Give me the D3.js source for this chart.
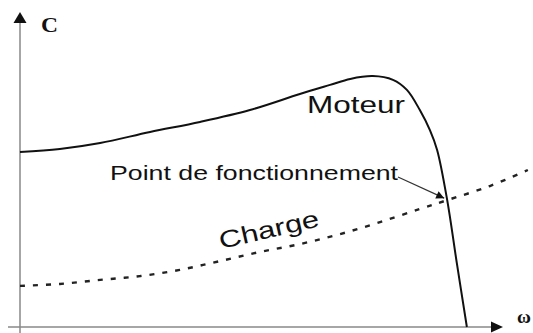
<!DOCTYPE html>
<html>
<head>
<meta charset="utf-8">
<script src="https://cdn.jsdelivr.net/npm/d3@7"></script>
<style>
  body { margin: 0; background: #fff; }
  svg { display: block; }
  .lbl { font-family: "Liberation Sans", Arial, sans-serif; fill: #111; }
  .axlbl { font-family: "Liberation Serif", "Times New Roman", serif; font-weight: bold; fill: #111; }
</style>
</head>
<body>
<div id="chart"></div>
<script>
// motor torque curve (abstract units, 0..100)
const motorX = [0, 8.3, 16.7, 27.1, 37.5, 47.9, 58.3, 64.6, 68.8, 73.5, 77.7, 80.6, 83.3, 85.4, 86.9, 89.0, 91.0, 93.1];
const motorY = [55.7, 56.7, 58.6, 62.1, 65.3, 69.1, 74.2, 77.1, 79.0, 79.9, 78.7, 75.5, 69.1, 62.7, 56.4, 40.4, 20.4, 0];
// load torque curve
const loadX = [0, 8.3, 16.7, 25.0, 33.3, 41.7, 50.0, 58.3, 66.7, 75.0, 83.3, 89.0, 97.9, 105.8];
const loadY = [13.1, 13.7, 15.0, 16.2, 18.2, 21.0, 23.9, 26.4, 29.6, 33.4, 37.6, 40.4, 44.9, 50.0];
// operating point
const opPoint = [89.0, 40.4];
const labels = { y: 'C', x: 'ω', motor: 'Moteur', load: 'Charge', point: 'Point de fonctionnement' };

document.addEventListener('DOMContentLoaded', function(){
  drawChart();
});

function drawChart() {
  const W = 533, H = 333;
  const svg = d3.select('#chart').append('svg').attr('width', W).attr('height', H);

  const x = d3.scaleLinear().domain([0, 100]).range([20, 500]);
  const y = d3.scaleLinear().domain([0, 100]).range([327, 13]);

  const defs = svg.append('defs');
  defs.append('marker').attr('id', 'ptr')
    .attr('viewBox', '0 0 10 10').attr('refX', 10).attr('refY', 5)
    .attr('markerWidth', 11).attr('markerHeight', 8).attr('markerUnits', 'userSpaceOnUse')
    .attr('orient', 'auto')
    .append('path').attr('d', 'M0,0 L10,5 L0,10 Z').attr('fill', '#111');

  // axes
  svg.append('line').attr('x1', x(0)).attr('y1', H).attr('x2', x(0)).attr('y2', 22)
    .attr('stroke', '#888').attr('stroke-width', 1.5);
  svg.append('path').attr('d', `M${x(0)},12 L${x(0) - 6.5},23 L${x(0) + 6.5},23 Z`).attr('fill', '#111');
  svg.append('line').attr('x1', 8).attr('y1', y(0)).attr('x2', 492).attr('y2', y(0))
    .attr('stroke', '#888').attr('stroke-width', 1.5);
  svg.append('path').attr('d', `M503,${y(0)} L491,${y(0) - 5.5} L491,${y(0) + 5.5} Z`).attr('fill', '#111');

  svg.append('text').attr('class', 'axlbl').attr('x', 41).attr('y', 32)
    .attr('font-size', 20).attr('textLength', 17).attr('lengthAdjust', 'spacingAndGlyphs').text(labels.y);
  svg.append('text').attr('class', 'axlbl').attr('x', 517).attr('y', 323)
    .attr('font-size', 19).text(labels.x);

  const line = d3.line().x(d => x(d[0])).y(d => y(d[1])).curve(d3.curveCatmullRom.alpha(0.5));

  // load curve (dashed)
  svg.append('path').datum(d3.zip(loadX, loadY)).attr('d', line)
    .attr('fill', 'none').attr('stroke', '#222').attr('stroke-width', 2.4)
    .attr('stroke-dasharray', '5,8');

  // motor curve
  svg.append('path').datum(d3.zip(motorX, motorY)).attr('d', line)
    .attr('fill', 'none').attr('stroke', '#111').attr('stroke-width', 2);

  // annotation arrow
  svg.append('line').attr('x1', 398).attr('y1', 177)
    .attr('x2', x(opPoint[0]) - 3).attr('y2', y(opPoint[1]) - 2)
    .attr('stroke', '#333').attr('stroke-width', 1.2).attr('marker-end', 'url(#ptr)');

  svg.append('text').attr('class', 'lbl').attr('x', 110).attr('y', 180)
    .attr('font-size', 20).attr('textLength', 288).attr('lengthAdjust', 'spacingAndGlyphs').text(labels.point);
  svg.append('text').attr('class', 'lbl').attr('x', 307).attr('y', 113)
    .attr('font-size', 23).attr('textLength', 98).attr('lengthAdjust', 'spacingAndGlyphs').text(labels.motor);
  svg.append('text').attr('class', 'lbl').attr('transform', 'translate(221,249) rotate(-13)')
    .attr('font-size', 24).attr('textLength', 102).attr('lengthAdjust', 'spacingAndGlyphs').text(labels.load);
}
</script>
</body>
</html>
